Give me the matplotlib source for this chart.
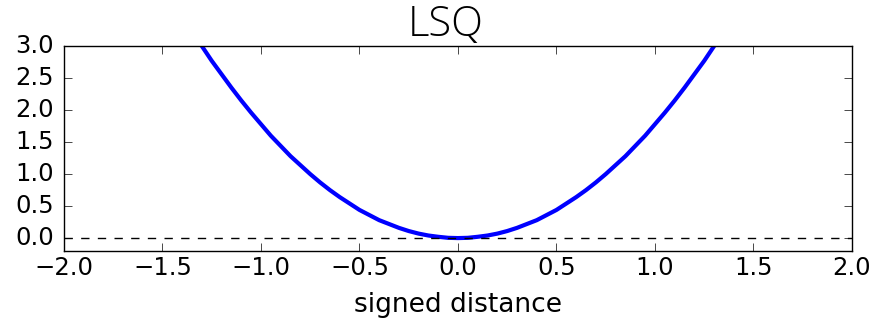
import matplotlib
matplotlib.use("Agg")
import matplotlib.pyplot as plt

plt.style.use("classic")

# Least-squares loss sampled along the signed distance
distance = [-1.40, -1.35, -1.30, -1.25, -1.20, -1.15, -1.10, -1.05, -1.00,
            -0.95, -0.90, -0.85, -0.80, -0.75, -0.70, -0.65, -0.60, -0.55,
            -0.50, -0.45, -0.40, -0.35, -0.30, -0.25, -0.20, -0.15, -0.10,
            -0.05, 0.00, 0.05, 0.10, 0.15, 0.20, 0.25, 0.30, 0.35, 0.40,
            0.45, 0.50, 0.55, 0.60, 0.65, 0.70, 0.75, 0.80, 0.85, 0.90,
            0.95, 1.00, 1.05, 1.10, 1.15, 1.20, 1.25, 1.30, 1.35, 1.40]
loss = [3.48, 3.23, 3.00, 2.77, 2.56, 2.35, 2.15, 1.96, 1.78,
        1.60, 1.44, 1.28, 1.14, 1.00, 0.87, 0.75, 0.64, 0.54,
        0.44, 0.36, 0.28, 0.22, 0.16, 0.11, 0.07, 0.04, 0.02,
        0.004, 0.00, 0.004, 0.02, 0.04, 0.07, 0.11, 0.16, 0.22, 0.28,
        0.36, 0.44, 0.54, 0.64, 0.75, 0.87, 1.00, 1.14, 1.28, 1.44,
        1.60, 1.78, 1.96, 2.15, 2.35, 2.56, 2.77, 3.00, 3.23, 3.48]

xticks = [-2.0, -1.5, -1.0, -0.5, 0.0, 0.5, 1.0, 1.5, 2.0]
yticks = [0.0, 0.5, 1.0, 1.5, 2.0, 2.5, 3.0]

fig = plt.figure(figsize=(8.76, 3.2), dpi=100, facecolor="white")
ax = fig.add_axes([0.073, 0.216, 0.8996, 0.640])

ax.plot(distance, loss, color="blue", linewidth=3,
        solid_joinstyle="round", solid_capstyle="butt")
ax.axhline(0.0, color="black", linestyle="--", linewidth=1.0, dashes=(6, 6))

ax.set_xlim(-2.0, 2.0)
ax.set_ylim(-0.2, 3.0)
ax.set_xticks(xticks)
ax.set_yticks(yticks)
ax.set_xticklabels([f"{t:.1f}".replace("-", "\u2212") for t in xticks])
ax.set_yticklabels([f"{t:.1f}" for t in yticks])
ax.tick_params(labelsize=17.5, direction="in", length=6, top=True, right=True)
ax.tick_params(axis="y", pad=7)
ax.tick_params(axis="x", pad=4)

ax.set_xlabel("signed distance", fontsize=19, labelpad=8)
ax.set_title("LSQ", fontsize=30, family=["Open Sans", "DejaVu Sans"],
             fontweight="light", pad=7, x=0.485)

fig.savefig("out.png", dpi=100, facecolor="white")
